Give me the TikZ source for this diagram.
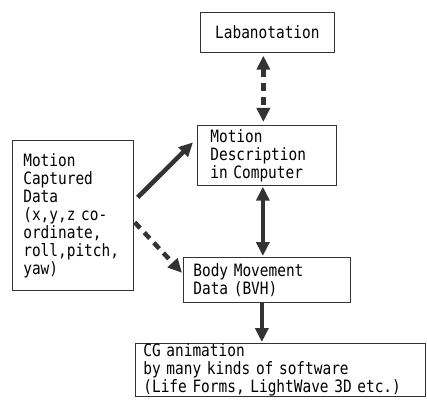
\documentclass[tikz,border=0pt]{standalone}
\usepackage{fontspec}
\newfontfamily\gfont[FakeStretch=0.85]{DejaVu Sans Mono}
\usetikzlibrary{arrows.meta,calc}
\begin{document}
\begin{tikzpicture}[x=1pt,y=-1pt,
  box/.style={draw=black!80, line width=0.7pt, rectangle, anchor=north west,
    inner ysep=0pt, font=\gfont\fontsize{17pt}{18pt}\selectfont, align=left},
  tip/.tip={Triangle[length=14pt,width=13pt]},
  arr/.style={draw=black!80, line width=4.5pt, -tip},
  darr/.style={draw=black!80, line width=4.5pt, tip-tip},
  dsh/.style={dash pattern=on 8pt off 6pt}]
\useasboundingbox (0,0) rectangle (427,403);

\node[box, align=center, inner xsep=0pt, text width=134pt, minimum height=40pt] (lab) at (200,12) {Labanotation};
\node[box, inner xsep=13pt, text width=113pt, minimum height=60pt] (md) at (197,125) {Motion\\Description\\in Computer};
\node[box, inner xsep=11pt, text width=99pt, minimum height=150pt] (mcd) at (12,140) {Motion\\Captured\\Data\\(x,y,z co-\\ordinate,\\roll,pitch,\\yaw)};
\node[box, inner xsep=10pt, text width=147pt, minimum height=45pt] (bvh) at (183,257) {Body Movement\\Data (BVH)};
\node[box, inner xsep=8pt, text width=274pt, minimum height=50pt] (cg) at (135,343) {CG animation\\by many kinds of software\\(Life Forms, LightWave 3D etc.)};

\draw[darr, dsh, shorten <=3pt, shorten >=3pt] ([xshift=-4pt]lab.south) -- ([xshift=-4pt]lab.south |- md.north);
\draw[darr, shorten <=1pt, shorten >=1pt] ([xshift=-4pt]md.south) -- ([xshift=-4pt]md.south |- bvh.north);
\draw[arr, shorten >=1pt] ([xshift=-5pt]bvh.south) -- ([xshift=-5pt]bvh.south |- cg.north);
\draw[arr] ([xshift=4pt,yshift=18pt]mcd.east) -- ([xshift=-4pt,yshift=13pt]md.west);
\draw[arr, dsh] ([xshift=1pt,yshift=-7pt]mcd.east) -- ([xshift=-1pt,yshift=7pt]bvh.west);
\end{tikzpicture}
\end{document}
